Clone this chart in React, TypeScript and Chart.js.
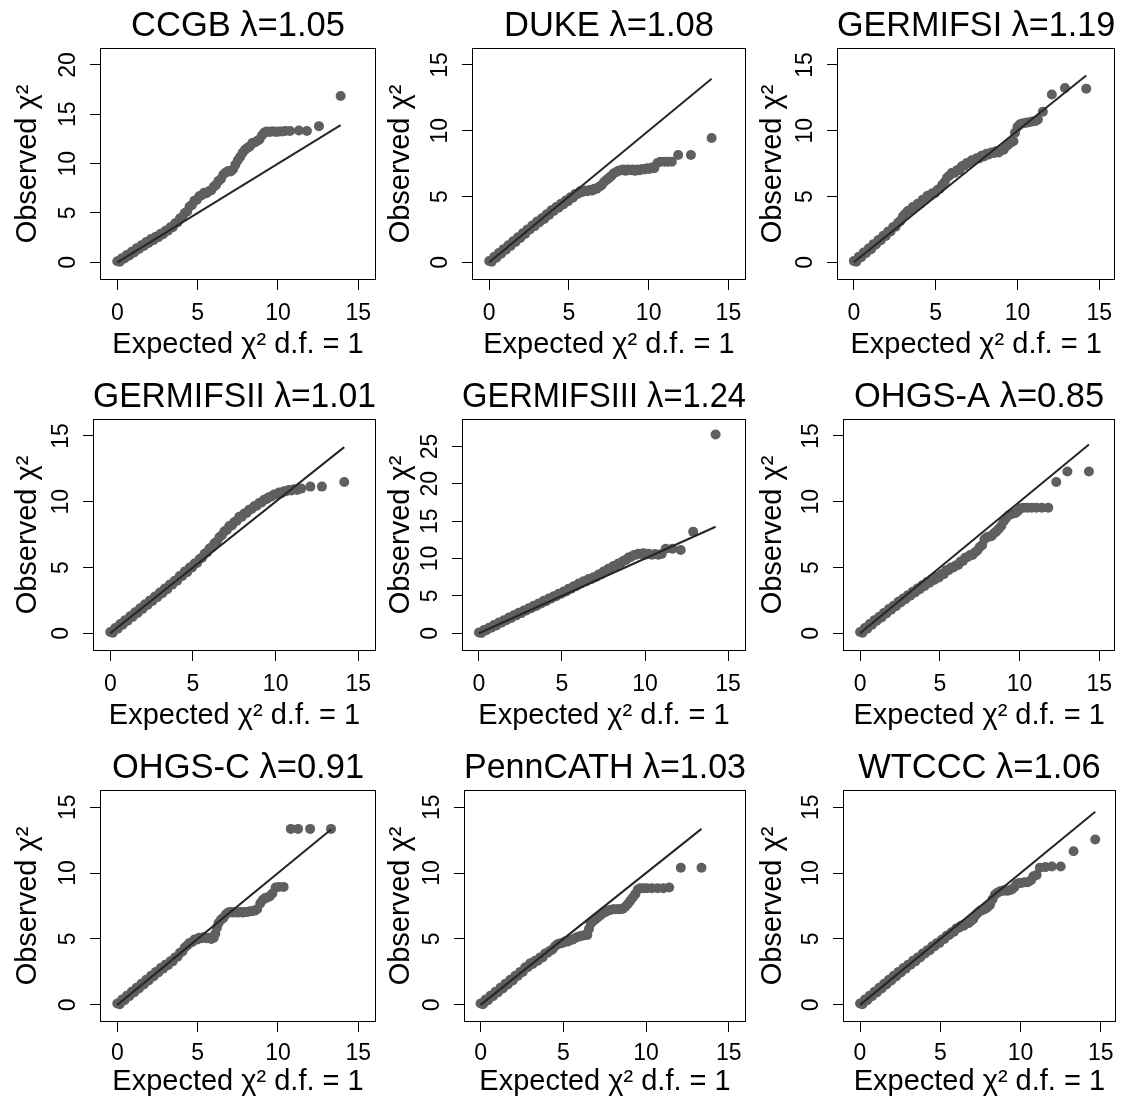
import React, { useEffect, useRef } from 'react';
import { Chart, registerables } from 'chart.js';

Chart.register(...registerables);
Chart.defaults.font.family = "'Liberation Sans', Arial, Helvetica, sans-serif";
Chart.defaults.color = '#000';

// ---------------- data: [expected chi2, observed chi2] ----------------
const ccgbPoints: [number, number][] = [
  [0, 0.1], [0.15, 0.05], [0.3, 0.42], [0.45, 0.38], [0.6, 0.75], [0.75, 0.7], [0.9, 1.08], [1.05, 1.0], [1.2, 1.42], [1.35, 1.35],
  [1.5, 1.72], [1.65, 1.65], [1.8, 2.05], [1.95, 1.95], [2.1, 2.35], [2.25, 2.25], [2.4, 2.6], [2.55, 2.55], [2.7, 2.9], [2.85, 2.85],
  [3.0, 3.2], [3.15, 3.2], [3.3, 3.55], [3.45, 3.55], [3.6, 3.95], [3.75, 4.05], [3.9, 4.45], [4.05, 4.6], [4.2, 5.0], [4.35, 5.15],
  [4.5, 5.65], [4.65, 5.8], [4.8, 6.25], [4.95, 6.35], [5.1, 6.7], [5.25, 6.8], [5.4, 7.05], [5.55, 7.0], [5.7, 7.2], [5.85, 7.3],
  [6.0, 7.65], [6.15, 7.85], [6.3, 8.25], [6.45, 8.45], [6.6, 8.9], [6.75, 9.1], [6.9, 9.25], [7.05, 9.2], [7.2, 9.4], [7.35, 9.9],
  [7.5, 10.35], [7.65, 10.7], [7.8, 11.1], [7.95, 11.4], [8.1, 11.6], [8.25, 11.75], [8.4, 12.1], [8.55, 12.15], [8.7, 12.3], [8.85, 12.45],
  [9.0, 12.85], [9.15, 13.15], [9.3, 13.25], [9.45, 13.2], [9.6, 13.25], [9.75, 13.25], [9.9, 13.2], [10.05, 13.25], [10.25, 13.25], [10.45, 13.3],
  [10.75, 13.3], [11.3, 13.35], [11.8, 13.3], [12.55, 13.8], [13.9, 16.85],
];
const dukePoints: [number, number][] = [
  [0, 0.1], [0.15, 0.05], [0.3, 0.4], [0.45, 0.35], [0.6, 0.7], [0.75, 0.65], [0.9, 1.0], [1.05, 0.95], [1.2, 1.3], [1.35, 1.25],
  [1.5, 1.6], [1.65, 1.55], [1.8, 1.9], [1.95, 1.85], [2.1, 2.2], [2.25, 2.15], [2.4, 2.5], [2.55, 2.5], [2.7, 2.8], [2.85, 2.75],
  [3.0, 3.1], [3.15, 3.05], [3.3, 3.35], [3.45, 3.3], [3.6, 3.65], [3.75, 3.6], [3.9, 3.95], [4.05, 3.9], [4.2, 4.2], [4.35, 4.15],
  [4.5, 4.45], [4.65, 4.4], [4.8, 4.7], [4.95, 4.65], [5.1, 4.95], [5.25, 4.9], [5.4, 5.2], [5.55, 5.2], [5.7, 5.4], [5.85, 5.35],
  [6.0, 5.45], [6.15, 5.4], [6.3, 5.5], [6.45, 5.45], [6.6, 5.6], [6.75, 5.6], [6.9, 5.75], [7.05, 5.85], [7.2, 6.1], [7.35, 6.25],
  [7.5, 6.4], [7.65, 6.55], [7.8, 6.75], [7.95, 6.85], [8.1, 6.95], [8.25, 7.0], [8.4, 7.05], [8.55, 6.95], [8.7, 7.05], [8.85, 7.0],
  [9.0, 7.05], [9.15, 6.95], [9.3, 7.05], [9.45, 7.0], [9.6, 7.1], [9.75, 7.05], [9.9, 7.15], [10.05, 7.1], [10.2, 7.2], [10.35, 7.15],
  [10.55, 7.55], [10.75, 7.65], [11.0, 7.65], [11.2, 7.65], [11.45, 7.65], [11.85, 8.15], [12.65, 8.15], [13.95, 9.45],
];
const germifsiPoints: [number, number][] = [
  [0, 0.1], [0.15, 0.05], [0.3, 0.42], [0.45, 0.38], [0.6, 0.75], [0.75, 0.7], [0.9, 1.05], [1.05, 1.0], [1.2, 1.38], [1.35, 1.35],
  [1.5, 1.7], [1.65, 1.68], [1.8, 2.02], [1.95, 2.0], [2.1, 2.35], [2.25, 2.35], [2.4, 2.68], [2.55, 2.7], [2.7, 3.0], [2.85, 3.15],
  [3.0, 3.5], [3.15, 3.7], [3.3, 3.9], [3.45, 3.95], [3.6, 4.2], [3.75, 4.2], [3.9, 4.45], [4.05, 4.45], [4.2, 4.75], [4.35, 4.75],
  [4.5, 5.05], [4.65, 5.05], [4.8, 5.25], [4.95, 5.25], [5.1, 5.5], [5.25, 5.6], [5.4, 5.9], [5.55, 6.1], [5.7, 6.45], [5.85, 6.6],
  [6.0, 6.8], [6.15, 6.8], [6.3, 7.0], [6.45, 7.0], [6.6, 7.3], [6.75, 7.35], [6.9, 7.55], [7.05, 7.55], [7.2, 7.75], [7.35, 7.75],
  [7.5, 7.9], [7.65, 7.9], [7.8, 8.1], [7.95, 8.05], [8.1, 8.25], [8.25, 8.2], [8.4, 8.35], [8.55, 8.3], [8.7, 8.45], [8.85, 8.35],
  [9.0, 8.5], [9.15, 8.55], [9.3, 8.8], [9.45, 8.95], [9.6, 9.1], [9.75, 9.2], [9.85, 9.85], [10.0, 10.3], [10.15, 10.5], [10.3, 10.55],
  [10.5, 10.6], [10.7, 10.65], [10.9, 10.7], [11.1, 10.75], [11.25, 10.85], [11.55, 11.45], [12.1, 12.75], [12.9, 13.25], [14.2, 13.2],
];
const germifsiiPoints: [number, number][] = [
  [0, 0.1], [0.15, 0.05], [0.3, 0.4], [0.45, 0.35], [0.6, 0.7], [0.75, 0.65], [0.9, 1.0], [1.05, 0.95], [1.2, 1.3], [1.35, 1.25],
  [1.5, 1.6], [1.65, 1.55], [1.8, 1.9], [1.95, 1.85], [2.1, 2.2], [2.25, 2.15], [2.4, 2.5], [2.55, 2.45], [2.7, 2.8], [2.85, 2.75],
  [3.0, 3.1], [3.15, 3.05], [3.3, 3.4], [3.45, 3.35], [3.6, 3.7], [3.75, 3.7], [3.9, 4.0], [4.05, 4.0], [4.2, 4.35], [4.35, 4.35],
  [4.5, 4.7], [4.65, 4.65], [4.8, 5.0], [4.95, 5.0], [5.1, 5.3], [5.25, 5.35], [5.4, 5.65], [5.55, 5.75], [5.7, 6.05], [5.85, 6.15],
  [6.0, 6.45], [6.15, 6.55], [6.3, 6.85], [6.45, 6.95], [6.6, 7.3], [6.75, 7.45], [6.9, 7.75], [7.05, 7.85], [7.2, 8.15], [7.35, 8.2],
  [7.5, 8.45], [7.65, 8.55], [7.8, 8.85], [7.95, 8.85], [8.1, 9.1], [8.25, 9.15], [8.4, 9.4], [8.55, 9.45], [8.7, 9.65], [8.85, 9.7],
  [9.0, 9.9], [9.15, 9.95], [9.3, 10.15], [9.45, 10.2], [9.6, 10.35], [9.75, 10.4], [9.9, 10.55], [10.05, 10.55], [10.2, 10.7], [10.35, 10.65],
  [10.5, 10.8], [10.65, 10.8], [10.8, 10.9], [10.95, 10.85], [11.1, 10.95], [11.3, 10.9], [11.55, 11.0], [12.1, 11.15], [12.8, 11.15], [14.15, 11.5],
];
const germifsiiiPoints: [number, number][] = [
  [0, 0.1], [0.15, 0.05], [0.3, 0.45], [0.45, 0.4], [0.6, 0.75], [0.75, 0.75], [0.9, 1.1], [1.05, 1.05], [1.2, 1.45], [1.35, 1.4],
  [1.5, 1.75], [1.65, 1.75], [1.8, 2.1], [1.95, 2.05], [2.1, 2.4], [2.25, 2.4], [2.4, 2.75], [2.55, 2.7], [2.7, 3.05], [2.85, 3.05],
  [3.0, 3.35], [3.15, 3.35], [3.3, 3.7], [3.45, 3.65], [3.6, 4.0], [3.75, 4.0], [3.9, 4.35], [4.05, 4.3], [4.2, 4.65], [4.35, 4.65],
  [4.5, 4.95], [4.65, 4.95], [4.8, 5.3], [4.95, 5.3], [5.1, 5.6], [5.25, 5.6], [5.4, 5.95], [5.55, 5.95], [5.7, 6.3], [5.85, 6.3],
  [6.0, 6.65], [6.15, 6.65], [6.3, 6.95], [6.45, 6.95], [6.6, 7.25], [6.75, 7.25], [6.9, 7.5], [7.05, 7.55], [7.2, 7.85], [7.35, 7.9],
  [7.5, 8.25], [7.65, 8.3], [7.8, 8.65], [7.95, 8.7], [8.1, 9.0], [8.25, 9.05], [8.4, 9.35], [8.55, 9.4], [8.7, 9.7], [8.85, 9.8],
  [9.0, 10.15], [9.15, 10.2], [9.3, 10.45], [9.45, 10.5], [9.6, 10.65], [9.75, 10.6], [9.9, 10.7], [10.05, 10.55], [10.2, 10.65], [10.4, 10.5],
  [10.6, 10.6], [10.8, 10.5], [11.0, 10.6], [11.25, 11.3], [11.65, 11.3], [12.15, 11.15], [12.9, 13.6], [14.25, 26.6],
];
const ohgsAPoints: [number, number][] = [
  [0, 0.1], [0.15, 0.05], [0.3, 0.4], [0.45, 0.35], [0.6, 0.7], [0.75, 0.65], [0.9, 1.0], [1.05, 0.95], [1.2, 1.25], [1.35, 1.2],
  [1.5, 1.55], [1.65, 1.5], [1.8, 1.85], [1.95, 1.8], [2.1, 2.1], [2.25, 2.05], [2.4, 2.4], [2.55, 2.35], [2.7, 2.65], [2.85, 2.6],
  [3.0, 2.9], [3.15, 2.85], [3.3, 3.15], [3.45, 3.1], [3.6, 3.4], [3.75, 3.35], [3.9, 3.65], [4.05, 3.6], [4.2, 3.9], [4.35, 3.85],
  [4.5, 4.1], [4.65, 4.05], [4.8, 4.3], [4.95, 4.25], [5.1, 4.5], [5.25, 4.5], [5.4, 4.8], [5.55, 4.8], [5.7, 5.0], [5.85, 5.0],
  [6.0, 5.15], [6.15, 5.2], [6.3, 5.45], [6.45, 5.5], [6.6, 5.75], [6.75, 5.8], [6.9, 5.95], [7.05, 5.95], [7.2, 6.15], [7.35, 6.3],
  [7.5, 6.55], [7.65, 6.7], [7.8, 7.15], [7.95, 7.3], [8.1, 7.35], [8.25, 7.4], [8.4, 7.6], [8.55, 7.75], [8.7, 7.95], [8.85, 8.15],
  [9.0, 8.5], [9.15, 8.75], [9.3, 8.95], [9.45, 9.05], [9.6, 9.1], [9.75, 9.15], [9.9, 9.3], [10.05, 9.5], [10.25, 9.55], [10.5, 9.55],
  [10.75, 9.55], [11.05, 9.55], [11.4, 9.55], [11.8, 9.55], [12.3, 11.5], [13.0, 12.3], [14.35, 12.3],
];
const ohgsCPoints: [number, number][] = [
  [0, 0.1], [0.15, 0.05], [0.3, 0.4], [0.45, 0.35], [0.6, 0.7], [0.75, 0.65], [0.9, 1.0], [1.05, 0.95], [1.2, 1.3], [1.35, 1.25],
  [1.5, 1.6], [1.65, 1.55], [1.8, 1.9], [1.95, 1.85], [2.1, 2.2], [2.25, 2.15], [2.4, 2.5], [2.55, 2.45], [2.7, 2.8], [2.85, 2.75],
  [3.0, 3.05], [3.15, 3.0], [3.3, 3.3], [3.45, 3.3], [3.6, 3.6], [3.75, 3.65], [3.9, 3.95], [4.05, 4.05], [4.2, 4.35], [4.35, 4.5],
  [4.5, 4.7], [4.65, 4.75], [4.8, 4.95], [4.95, 4.95], [5.1, 5.1], [5.25, 5.05], [5.4, 5.15], [5.55, 5.05], [5.7, 5.1], [5.85, 5.0],
  [6.0, 5.1], [6.1, 5.4], [6.2, 5.85], [6.3, 6.2], [6.45, 6.45], [6.6, 6.6], [6.75, 6.85], [6.9, 7.0], [7.05, 7.05], [7.2, 7.0],
  [7.35, 7.05], [7.5, 7.0], [7.65, 7.05], [7.8, 7.0], [7.95, 7.05], [8.1, 7.05], [8.25, 7.1], [8.4, 7.1], [8.55, 7.15], [8.7, 7.25],
  [8.9, 7.7], [9.05, 7.95], [9.2, 8.1], [9.35, 8.15], [9.5, 8.25], [9.65, 8.45], [9.85, 8.9], [10.05, 8.95], [10.35, 8.95], [10.8, 13.35],
  [11.25, 13.35], [12.0, 13.35], [13.3, 13.35],
];
const pennCathPoints: [number, number][] = [
  [0, 0.1], [0.15, 0.05], [0.3, 0.4], [0.45, 0.35], [0.6, 0.7], [0.75, 0.65], [0.9, 1.0], [1.05, 0.95], [1.2, 1.3], [1.35, 1.25],
  [1.5, 1.6], [1.65, 1.55], [1.8, 1.9], [1.95, 1.85], [2.1, 2.2], [2.25, 2.2], [2.4, 2.5], [2.55, 2.5], [2.7, 2.85], [2.85, 2.85],
  [3.0, 3.15], [3.15, 3.1], [3.3, 3.35], [3.45, 3.35], [3.6, 3.6], [3.75, 3.6], [3.9, 3.9], [4.05, 3.95], [4.2, 4.1], [4.35, 4.2],
  [4.5, 4.45], [4.65, 4.6], [4.8, 4.65], [4.95, 4.7], [5.1, 4.8], [5.25, 4.8], [5.4, 4.9], [5.55, 4.95], [5.7, 5.05], [5.85, 5.15],
  [6.0, 5.2], [6.15, 5.25], [6.3, 5.3], [6.45, 5.3], [6.55, 5.75], [6.65, 6.15], [6.8, 6.35], [6.95, 6.5], [7.1, 6.65], [7.25, 6.8],
  [7.4, 6.95], [7.55, 7.05], [7.7, 7.15], [7.85, 7.2], [8.0, 7.25], [8.15, 7.25], [8.3, 7.25], [8.45, 7.25], [8.6, 7.3], [8.75, 7.45],
  [8.9, 7.65], [9.05, 7.9], [9.2, 8.15], [9.35, 8.4], [9.5, 8.75], [9.65, 8.85], [9.85, 8.85], [10.05, 8.85], [10.35, 8.85], [10.7, 8.85],
  [11.05, 8.85], [11.4, 8.9], [12.1, 10.4], [13.35, 10.4],
];
const wtcccPoints: [number, number][] = [
  [0, 0.1], [0.15, 0.05], [0.3, 0.4], [0.45, 0.35], [0.6, 0.7], [0.75, 0.65], [0.9, 1.0], [1.05, 0.95], [1.2, 1.3], [1.35, 1.25],
  [1.5, 1.6], [1.65, 1.55], [1.8, 1.9], [1.95, 1.85], [2.1, 2.2], [2.25, 2.15], [2.4, 2.5], [2.55, 2.45], [2.7, 2.8], [2.85, 2.75],
  [3.0, 3.05], [3.15, 3.05], [3.3, 3.35], [3.45, 3.3], [3.6, 3.6], [3.75, 3.6], [3.9, 3.9], [4.05, 3.9], [4.2, 4.15], [4.35, 4.15],
  [4.5, 4.45], [4.65, 4.45], [4.8, 4.7], [4.95, 4.7], [5.1, 4.95], [5.25, 5.0], [5.4, 5.25], [5.55, 5.3], [5.7, 5.5], [5.85, 5.55],
  [6.0, 5.8], [6.15, 5.85], [6.3, 6.0], [6.45, 6.0], [6.6, 6.15], [6.75, 6.2], [6.9, 6.35], [7.05, 6.5], [7.2, 6.8], [7.35, 7.0],
  [7.5, 7.15], [7.65, 7.2], [7.8, 7.3], [7.95, 7.4], [8.1, 7.6], [8.25, 8.0], [8.4, 8.35], [8.55, 8.5], [8.7, 8.6], [8.85, 8.65],
  [9.0, 8.7], [9.15, 8.65], [9.3, 8.7], [9.45, 8.75], [9.6, 8.9], [9.75, 9.15], [9.9, 9.25], [10.05, 9.25], [10.25, 9.3], [10.45, 9.3],
  [10.65, 9.45], [10.8, 9.75], [11.0, 9.85], [11.2, 10.4], [11.55, 10.45], [11.95, 10.5], [12.5, 10.5], [13.3, 11.65], [14.65, 12.55],
];

const studyNames = ['CCGB', 'DUKE', 'GERMIFSI', 'GERMIFSII', 'GERMIFSIII', 'OHGS-A', 'OHGS-C', 'PennCATH', 'WTCCC'];
const lambdaValues = ['1.05', '1.08', '1.19', '1.01', '1.24', '0.85', '0.91', '1.03', '1.06'];
const studyPoints = [ccgbPoints, dukePoints, germifsiPoints, germifsiiPoints, germifsiiiPoints, ohgsAPoints, ohgsCPoints, pennCathPoints, wtcccPoints];

const xTickValues = [0, 5, 10, 15];
const yTickValues = [0, 5, 10, 15];
const yTickValuesCCGB = [0, 5, 10, 15, 20];
const yTickValuesGERMIFSIII = [0, 5, 10, 15, 20, 25];
const studyYTicks = [yTickValuesCCGB, yTickValues, yTickValues, yTickValues, yTickValuesGERMIFSIII, yTickValues, yTickValues, yTickValues, yTickValues];

const xAxisTitle = 'Expected \u03C7\u00B2 d.f. = 1';
const yAxisTitle = 'Observed \u03C7\u00B2';

// ---------------- layout (page pixels / axis limits) ----------------
const COL_LEFT = [0, 377, 750];
const ROW_TOP = [0, 371, 742];
const ROW_H = [371, 371, 362];
const Y_TITLE_CENTER = [27.5, 401, 772.5];
const X_TITLE_OFFSET = [64.8, 64.8, 60.2];
const X_TICK_PAD = [9.5, 9.5, 8];
const BOX_TOP = 48;
const BOX_BOTTOM = 280;
const TITLE_FONT = 34.5;

const panelLayout = [
  { box: [100, 377], x: [-1.077, 16.1], y: [-1.794, 21.72] },
  { box: [472, 747], x: [-1.08, 16.1], y: [-1.346, 16.29] },
  { box: [837, 1118], x: [-1.03, 15.97], y: [-1.346, 16.29] },
  { box: [93, 377], x: [-1.045, 16.07], y: [-1.346, 16.29] },
  { box: [462, 747], x: [-1.02, 16.08], y: [-2.37, 28.67] },
  { box: [843, 1118], x: [-1.07, 16.0], y: [-1.346, 16.29] },
  { box: [100, 377], x: [-1.077, 16.1], y: [-1.3, 16.3] },
  { box: [464, 747], x: [-1.0, 16.04], y: [-1.3, 16.3] },
  { box: [843, 1118], x: [-1.06, 15.93], y: [-1.3, 16.3] },
];

const framePlugin = {
  id: 'frameBox',
  afterDraw(chart: any) {
    const { ctx, chartArea: a } = chart;
    ctx.save();
    ctx.strokeStyle = '#000';
    ctx.lineWidth = 1;
    const l = Math.round(a.left) + 0.5;
    const r = Math.round(a.right) - 0.5;
    const t = Math.round(a.top) + 0.5;
    const b = Math.round(a.bottom) - 0.5;
    ctx.strokeRect(l, t, r - l, b - t);
    ctx.restore();
  },
};

function QQPanel({ index }: { index: number }) {
  const ref = useRef<HTMLCanvasElement>(null);
  const col = index % 3;
  const row = Math.floor(index / 3);
  const lay = panelLayout[index];
  const left = COL_LEFT[col];
  const top = ROW_TOP[row];
  const padRight = 4;
  const width = lay.box[1] - left + padRight;
  const height = ROW_H[row];

  useEffect(() => {
    const pts = studyPoints[index];
    const lastX = pts[pts.length - 1][0];
    const yTicks = studyYTicks[index];
    const yAxisWidth = lay.box[0] - left;
    const xAxisHeight = height - BOX_BOTTOM;
    const titleCenterFromBottom = height - (BOX_BOTTOM + X_TITLE_OFFSET[row]);
    const axisTitleFont = 29;
    const yTitlePadTop = Y_TITLE_CENTER[col] - left - (axisTitleFont * 1.2) / 2;
    const titlePadTop = 5.5;

    const chart = new Chart(ref.current as HTMLCanvasElement, {
      type: 'scatter',
      data: {
        datasets: [
          {
            type: 'line',
            data: [{ x: 0, y: 0 }, { x: lastX, y: lastX }],
            borderColor: '#262626',
            borderWidth: 2,
            pointRadius: 0,
            fill: false,
            tension: 0,
            order: 0,
          } as any,
          {
            type: 'scatter',
            data: pts.map(([x, y]) => ({ x, y })),
            backgroundColor: '#5f5f5f',
            borderColor: '#5f5f5f',
            borderWidth: 0,
            pointRadius: 5,
            order: 1,
          } as any,
        ],
      },
      options: {
        responsive: false,
        animation: false,
        events: [],
        layout: { padding: { left: 0, top: 0, right: padRight, bottom: 0 } },
        plugins: {
          legend: { display: false },
          tooltip: { enabled: false },
          title: {
            display: true,
            text: `${studyNames[index]} \u03BB=${lambdaValues[index]}`,
            fullSize: false,
            color: '#000',
            font: { size: TITLE_FONT, weight: 'normal' },
            padding: { top: titlePadTop, bottom: BOX_TOP - titlePadTop - TITLE_FONT * 1.2 },
          },
        },
        scales: {
          x: {
            type: 'linear',
            min: lay.x[0],
            max: lay.x[1],
            afterBuildTicks: (s: any) => { s.ticks = xTickValues.map((v) => ({ value: v })); },
            afterFit: (s: any) => { s.height = xAxisHeight; },
            grid: { display: true, drawOnChartArea: false, drawTicks: true, tickLength: 10, tickColor: '#000', tickWidth: 1 },
            border: { display: false },
            ticks: { font: { size: 23 }, color: '#000', padding: X_TICK_PAD[row], maxRotation: 0, minRotation: 0, autoSkip: false },
            title: {
              display: true,
              text: xAxisTitle,
              color: '#000',
              font: { size: axisTitleFont },
              padding: { top: 0, bottom: titleCenterFromBottom - (axisTitleFont * 1.2) / 2 },
            },
          },
          y: {
            type: 'linear',
            min: lay.y[0],
            max: lay.y[1],
            afterBuildTicks: (s: any) => { s.ticks = yTicks.map((v) => ({ value: v })); },
            afterFit: (s: any) => { s.width = yAxisWidth; },
            grid: { display: true, drawOnChartArea: false, drawTicks: true, tickLength: 10, tickColor: '#000', tickWidth: 1 },
            border: { display: false },
            ticks: { font: { size: 23 }, color: '#000', padding: 9, minRotation: 90, maxRotation: 90, crossAlign: 'center', autoSkip: false },
            title: {
              display: true,
              text: yAxisTitle,
              color: '#000',
              font: { size: axisTitleFont },
              padding: { top: yTitlePadTop, bottom: 0 },
            },
          },
        },
      } as any,
      plugins: [framePlugin],
    });
    return () => chart.destroy();
  }, []);

  return (
    <canvas
      ref={ref}
      width={width}
      height={height}
      style={{ position: 'absolute', left, top, width, height, display: 'block' }}
    />
  );
}

export default function App() {
  return (
    <div style={{ position: 'absolute', left: 0, top: 0, width: 1125, height: 1104, background: '#fff', overflow: 'hidden' }}>
      {studyNames.map((_, i) => (
        <QQPanel key={i} index={i} />
      ))}
    </div>
  );
}
